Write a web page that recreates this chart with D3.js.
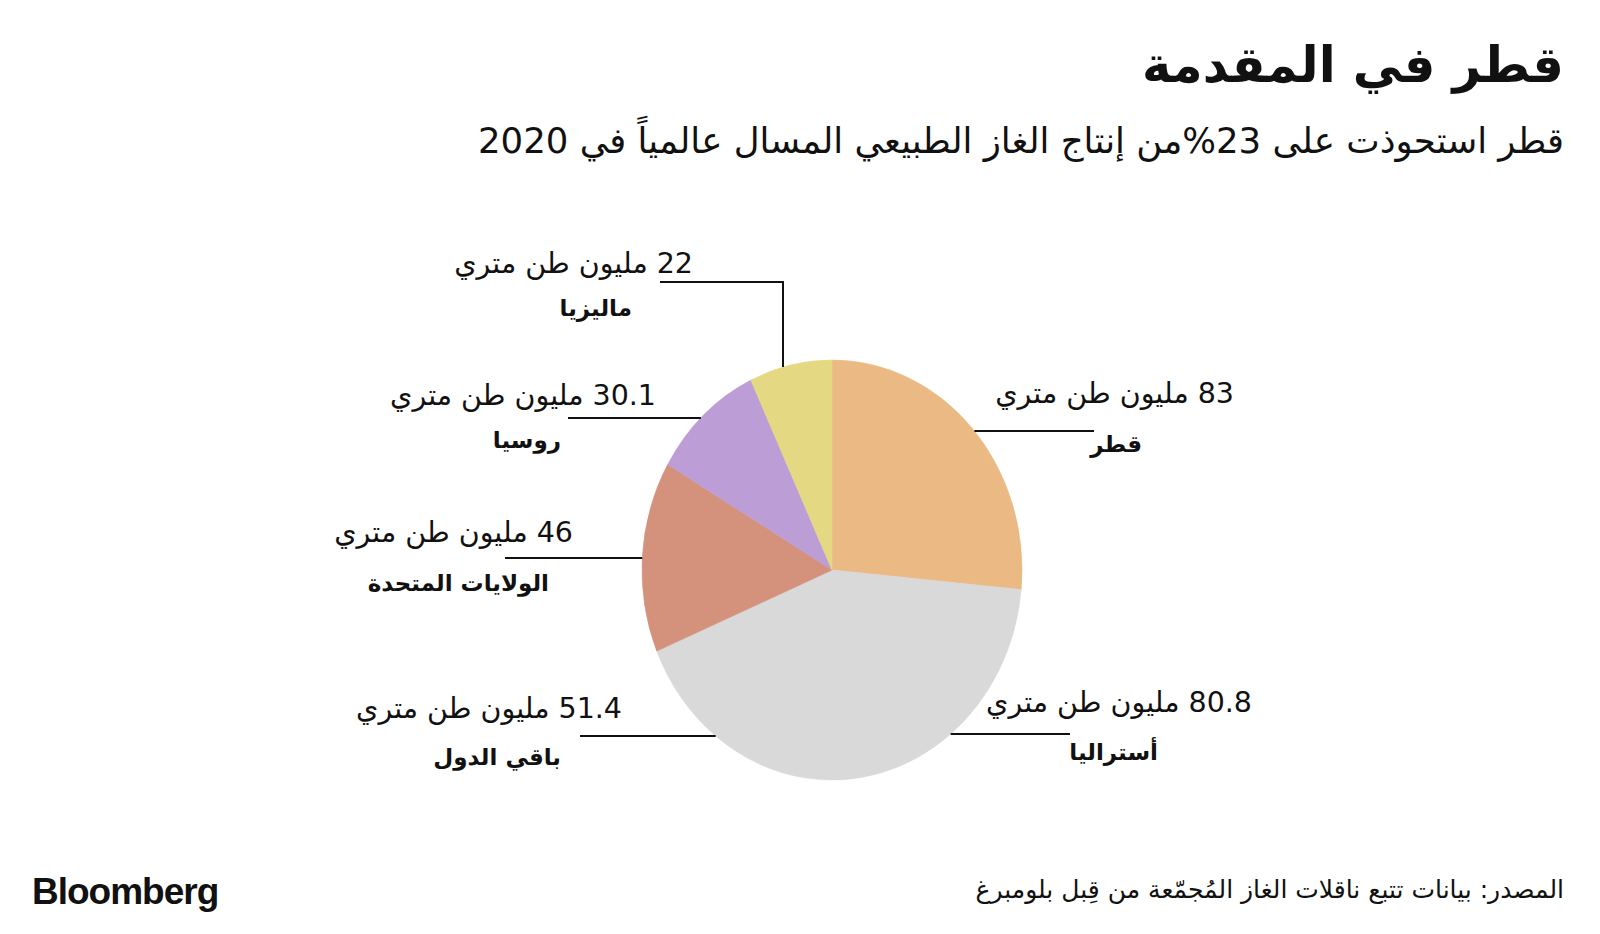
<!DOCTYPE html>
<html><head><meta charset="utf-8">
<script src="https://cdn.jsdelivr.net/npm/d3@7/dist/d3.min.js"></script>
<style>
body{margin:0;background:#fff;}
svg{display:block;}
text{font-family:"DejaVu Sans","Noto Sans",sans-serif;fill:#111;}
.rtl{direction:rtl;unicode-bidi:embed;}
</style></head>
<body><svg id="c" width="1600" height="934"></svg>
<script>
// ---- data ----
const countries = ["قطر","أستراليا","باقي الدول","الولايات المتحدة","روسيا","ماليزيا"];
const values = [83, 80.8, 51.4, 46, 30.1, 22];
const valueLabels = ["83","80.8","51.4","46","30.1","22"];
const unit = "مليون طن متري";
const colors = ["#ebba84","#d9d9d9","#d9d9d9","#d4917c","#bd9dd5","#e5d883"];
const title = "قطر في المقدمة";
const subtitle = "قطر استحوذت على 23%من إنتاج الغاز الطبيعي المسال عالمياً في 2020";
const source = "المصدر: بيانات تتبع ناقلات الغاز المُجمّعة من قِبل بلومبرغ";

// ---- layout (label placement) ----
const cx = 832, cy = 570, rx = 190, ry = 210;
const labelLayout = [
  {lineY:431, lineX:1094, valX:1234, valY:403, nameX:1142, nameY:452},
  {lineY:734, lineX:1070, valX:1252, valY:712, nameX:1158, nameY:760},
  {lineY:736, lineX:580,  valX:622,  valY:718, nameX:561,  nameY:765},
  {lineY:558, lineX:505,  valX:573,  valY:542, nameX:549,  nameY:591},
  {lineY:418, lineX:568,  valX:656,  valY:405, nameX:561,  nameY:448},
  {lineY:282, lineX:660,  valX:693,  valY:273, nameX:632,  nameY:316, elbowX:783}
];

const svg = d3.select("#c");

// title / subtitle
svg.append("text").attr("class","rtl").attr("x",1564).attr("y",82)
  .attr("text-anchor","start").style("font-size","49.5px").style("font-weight","bold").text(title);
svg.append("text").attr("class","rtl").attr("x",1564).attr("y",153)
  .attr("text-anchor","start").style("font-size","35.5px").text(subtitle);

// pie
const pie = d3.pie().sort(null).value(d => d)(values);
const arc = d3.arc().innerRadius(0).outerRadius(rx);
const g = svg.append("g").attr("transform", `translate(${cx},${cy}) scale(1,${ry/rx})`);
g.selectAll("path").data(pie).join("path")
  .attr("d", arc).attr("fill", (d,i) => colors[i])
  .attr("stroke", (d,i) => colors[i]).attr("stroke-width", 0.6);

// leader lines and labels
pie.forEach((d,i) => {
  const L = labelLayout[i];
  const mid = (d.startAngle + d.endAngle)/2;
  const side = Math.sin(mid) >= 0 ? 1 : -1;
  let pts;
  if (L.elbowX !== undefined) {
    const dx = L.elbowX - cx;
    const yEdge = cy - ry*Math.sqrt(1 - (dx/rx)*(dx/rx));
    pts = [[L.lineX, L.lineY],[L.elbowX, L.lineY],[L.elbowX, yEdge]];
  } else {
    const dy = L.lineY - cy;
    const xEdge = cx + side*rx*Math.sqrt(1 - (dy/ry)*(dy/ry));
    pts = [[L.lineX, L.lineY],[xEdge, L.lineY]];
  }
  svg.append("path").attr("d", d3.line()(pts)).attr("fill","none")
    .attr("stroke","#111").attr("stroke-width",2);
  svg.append("text").attr("class","rtl").attr("x",L.valX).attr("y",L.valY)
    .attr("text-anchor","start").style("font-size","28.5px")
    .text(valueLabels[i] + " " + unit);
  svg.append("text").attr("class","rtl").attr("x",L.nameX).attr("y",L.nameY)
    .attr("text-anchor","start").style("font-size","23px").style("font-weight","bold")
    .text(countries[i]);
});

// footer
svg.append("text").attr("x",32).attr("y",904).style("font-size","37px")
  .style("font-weight","bold").style("font-family","Liberation Sans, Arial, sans-serif")
  .style("letter-spacing","-1px").text("Bloomberg");
svg.append("text").attr("class","rtl").attr("x",1564).attr("y",898)
  .attr("text-anchor","start").style("font-size","25px").text(source);
</script></body></html>
